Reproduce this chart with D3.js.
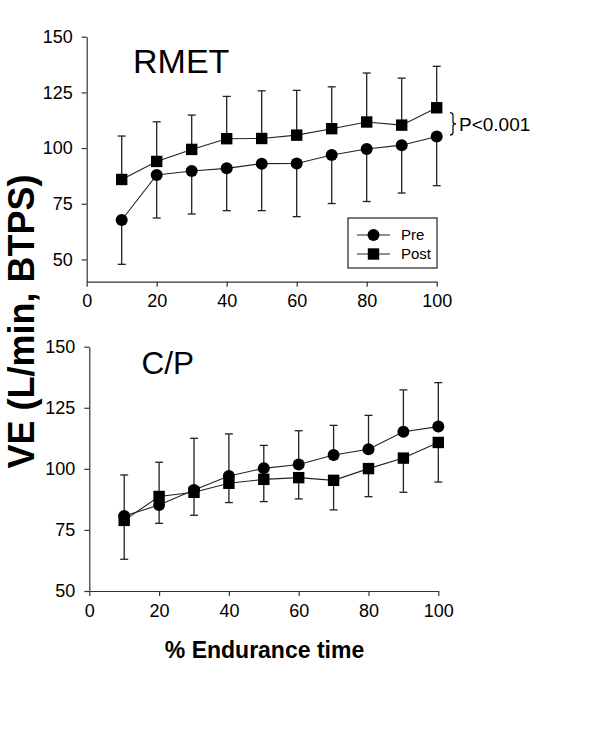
<!DOCTYPE html>
<html><head><meta charset="utf-8">
<script src="https://cdn.jsdelivr.net/npm/d3@7"></script>
<style>
html,body{margin:0;padding:0;background:#fff;}
svg text{font-family:"Liberation Sans",Arial,Helvetica,sans-serif;fill:#000;}
</style></head>
<body>
<svg id="chart" width="600" height="751"></svg>
<script>
// ---- data ----
const xValues = [10, 20, 30, 40, 50, 60, 70, 80, 90, 100];
const xTicks = [0, 20, 40, 60, 80, 100];
const yTicks = [50, 75, 100, 125, 150];
const seriesNames = ["Pre", "Post"];
const panelTitles = ["RMET", "C/P"];

const rmetPre      = [67.7, 87.9, 89.7, 90.9, 93.0, 93.1, 96.9, 99.6, 101.3, 105.2];
const rmetPreEnd   = [47.8, 68.6, 70.4, 71.9, 71.9, 69.2, 75.1, 76.0, 79.8, 83.1];
const rmetPost     = [85.9, 94.0, 99.4, 104.2, 104.3, 105.8, 108.7, 111.7, 110.3, 118.1];
const rmetPostEnd  = [105.4, 111.8, 114.8, 123.2, 125.7, 125.9, 127.5, 133.7, 131.4, 136.7];

const cpPre        = [80.7, 85.2, 91.3, 97.1, 100.2, 101.8, 105.7, 108.0, 115.2, 117.3];
const cpPreEnd     = [97.5, 102.7, 112.5, 114.3, 109.6, 115.6, 117.8, 121.9, 132.3, 135.3];
const cpPost       = [78.9, 88.7, 90.4, 94.1, 95.7, 96.4, 95.3, 100.1, 104.4, 110.8];
const cpPostEnd    = [63.0, 77.7, 81.0, 86.2, 86.6, 87.7, 83.2, 88.6, 90.4, 94.6];

const yDomains = [[40, 150], [50, 150]];
const xDomain = [0, 100];
const pText = "P<0.001";
const xLabel = "% Endurance time";
const yLabel = "VE (L/min, BTPS)";

// ---- drawing ----
const svg = d3.select("#chart");
const axisColor = "#333";

const panels = [
  { title: panelTitles[0], xr: [86.7, 436.7], yr: [281.7, 36.7], yd: yDomains[0],
    pre: rmetPre, preEnd: rmetPreEnd, post: rmetPost, postEnd: rmetPostEnd,
    titlePos: [133, 72.7], titleSize: 34 },
  { title: panelTitles[1], xr: [89.3, 438.3], yr: [591, 346.7], yd: yDomains[1],
    pre: cpPre, preEnd: cpPreEnd, post: cpPost, postEnd: cpPostEnd,
    titlePos: [141.5, 374.3], titleSize: 31.5 }
];

function drawCircle(g, cx, cy) {
  g.append("circle").attr("cx", cx).attr("cy", cy).attr("r", 6).attr("fill", "#000");
}
function drawSquare(g, cx, cy) {
  g.append("rect").attr("x", cx - 5.7).attr("y", cy - 5.7).attr("width", 11.4).attr("height", 11.4).attr("fill", "#000");
}

panels.forEach((p, pi) => {
  const x = d3.scaleLinear().domain(xDomain).range(p.xr);
  const y = d3.scaleLinear().domain(p.yd).range(p.yr);
  const g = svg.append("g");

  // axes
  const yAxis = d3.axisLeft(y).tickValues(yTicks).tickSize(5).tickSizeOuter(0).tickPadding(9);
  const ga = g.append("g").attr("transform", `translate(${p.xr[0]},0)`).call(yAxis);
  const xAxis = d3.axisBottom(x).tickValues(xTicks).tickSize(5).tickSizeOuter(0).tickPadding(8);
  const gx = g.append("g").attr("transform", `translate(0,${p.yr[0]})`).call(xAxis);
  [ga, gx].forEach(a => {
    a.selectAll("path.domain").attr("stroke", axisColor).attr("stroke-width", 1.2);
    a.selectAll(".tick line").attr("stroke", axisColor).attr("stroke-width", 1.2);
    a.selectAll(".tick text").attr("font-size", 18).attr("fill", "#000")
      .attr("font-family", '"Liberation Sans",Arial,sans-serif');
  });

  // error bars
  const capW = 4;
  const bars = [[p.pre, p.preEnd], [p.post, p.postEnd]];
  bars.forEach(([vals, ends]) => {
    xValues.forEach((xv, i) => {
      const cx = x(xv);
      g.append("line").attr("x1", cx).attr("x2", cx).attr("y1", y(vals[i])).attr("y2", y(ends[i]))
        .attr("stroke", "#222").attr("stroke-width", 1.3);
      g.append("line").attr("x1", cx - capW).attr("x2", cx + capW).attr("y1", y(ends[i])).attr("y2", y(ends[i]))
        .attr("stroke", "#222").attr("stroke-width", 1.3);
    });
  });

  // lines
  const line = d3.line().x((d, i) => x(xValues[i])).y(d => y(d));
  [p.pre, p.post].forEach(vals => {
    g.append("path").attr("d", line(vals)).attr("fill", "none").attr("stroke", "#222").attr("stroke-width", 1.1);
  });

  // markers
  xValues.forEach((xv, i) => drawCircle(g, x(xv), y(p.pre[i])));
  xValues.forEach((xv, i) => drawSquare(g, x(xv), y(p.post[i])));

  // title
  g.append("text").attr("x", p.titlePos[0]).attr("y", p.titlePos[1])
    .attr("font-size", p.titleSize).text(p.title);

  if (pi === 0) {
    // legend
    const lg = g.append("g");
    lg.append("rect").attr("x", 348).attr("y", 218).attr("width", 89).attr("height", 50)
      .attr("fill", "#fff").attr("stroke", "#222").attr("stroke-width", 1.2);
    const rows = [235, 254];
    seriesNames.forEach((name, k) => {
      lg.append("line").attr("x1", 357).attr("x2", 390).attr("y1", rows[k]).attr("y2", rows[k])
        .attr("stroke", "#222").attr("stroke-width", 1.1);
      if (k === 0) drawCircle(lg, 373.5, rows[k]); else drawSquare(lg, 373.5, rows[k]);
      lg.append("text").attr("x", 401).attr("y", rows[k] + 5).attr("font-size", 15).text(name);
    });

    // significance brace
    const bx = 450, by0 = 112.7, by1 = 135, bm = (by0 + by1) / 2;
    g.append("path")
      .attr("d", `M${bx},${by0} Q${bx + 3},${by0} ${bx + 3},${by0 + 3} L${bx + 3},${bm - 2} Q${bx + 3},${bm} ${bx + 6},${bm} Q${bx + 3},${bm} ${bx + 3},${bm + 2} L${bx + 3},${by1 - 3} Q${bx + 3},${by1} ${bx},${by1}`)
      .attr("fill", "none").attr("stroke", "#111").attr("stroke-width", 1.3);
    g.append("text").attr("x", 459).attr("y", 131).attr("font-size", 19).text(pText);
  }
});

// axis titles
svg.append("text").attr("x", 264.5).attr("y", 657.5).attr("text-anchor", "middle")
  .attr("font-size", 23).attr("font-weight", "bold").text(xLabel);
svg.append("text").attr("transform", "translate(34,321.5) rotate(-90)").attr("text-anchor", "middle")
  .attr("font-size", 36).attr("font-weight", "bold").text(yLabel);
</script>
</body></html>
